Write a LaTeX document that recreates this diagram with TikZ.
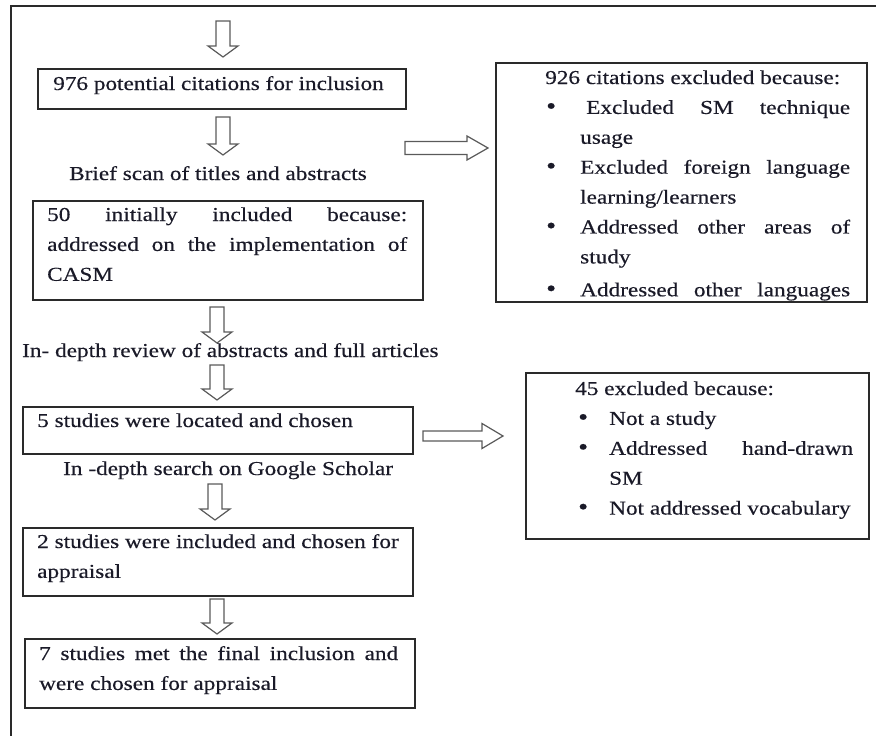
\documentclass[tikz,border=0pt]{standalone}
\usepackage{fontspec}
\setmainfont{Liberation Serif}[FakeStretch=1.18,FakeBold=0.4]

\definecolor{ink}{HTML}{1A1A28}
\definecolor{boxline}{HTML}{2A2A2A}
\definecolor{arrowline}{HTML}{5A5A5A}

% hollow block arrow pointing down: centre x, top y, tip y
\newcommand\downblock[3]{%
  \draw[blockarrow] (#1-7,#2) -- (#1+7,#2) -- (#1+7,#3-11) -- (#1+15,#3-11)
    -- (#1,#3) -- (#1-15,#3-11) -- (#1-7,#3-11) -- cycle;}
% hollow block arrow pointing right: start x, tip x, centre y, shaft half, head half
\newcommand\rightblock[5]{%
  \draw[blockarrow] (#1,#3-#4) -- (#2-21,#3-#4) -- (#2-21,#3-#5) -- (#2,#3)
    -- (#2-21,#3+#5) -- (#2-21,#3+#4) -- (#1,#3+#4) -- cycle;}
% bullet cells for the two exclusion lists
\newcommand\bulA{\makebox[35pt][l]{\hspace{1pt}{\fontsize{24}{24}\selectfont\textbullet}}}
\newcommand\bulB{\makebox[34pt][l]{\hspace{3pt}{\fontsize{24}{24}\selectfont\textbullet}}}

\begin{document}
\begin{tikzpicture}[x=1pt,y=-1pt,
  box/.style={draw=boxline,line width=1.6pt,inner sep=0pt,anchor=north west},
  txt/.style={inner sep=0pt,anchor=base west,text=ink,
              font=\fontsize{19.7}{29.9}\selectfont},
  blockarrow/.style={draw=arrowline,line width=1.2pt,fill=white,line join=miter},
  frame/.style={draw=boxline,line width=1.5pt}]
\useasboundingbox (0,0) rectangle (876,736);

% outer frame (top and left sides)
\coordinate (frameTR) at (876,6);
\coordinate (frameTL) at (11,6);
\coordinate (frameBL) at (11,736);
\draw[frame] (frameTR) -- (frameTL) -- (frameBL);

% main column boxes
\node[box,minimum width=368pt,minimum height=40pt] (b976) at (37,68) {};
\node[box,minimum width=390pt,minimum height=99pt] (b50) at (32,200) {};
\node[box,minimum width=390pt,minimum height=47pt] (b5) at (22,406) {};
\node[box,minimum width=390pt,minimum height=68pt] (b2) at (22,527) {};
\node[box,minimum width=390pt,minimum height=69pt] (b7) at (24,638) {};

% exclusion boxes
\node[box,minimum width=371pt,minimum height=239pt] (ex926) at (495,62) {};
\node[box,minimum width=343pt,minimum height=166pt] (ex45) at (525,372) {};

% texts of the main column
\node[txt] (t976) at (53,90) {976 potential citations for inclusion};
\node[txt] (scan) at (69,180) {Brief scan of titles and abstracts};
\node[txt] (t50) at (47,221) {\parbox[t]{360pt}{%
  \makebox[360pt][s]{50 initially included because:}\\
  \makebox[360pt][s]{addressed on the implementation of}\\
  CASM}};
\node[txt] (review) at (22,357) {In- depth review of abstracts and full articles};
\node[txt] (t5) at (37,427) {5 studies were located and chosen};
\node[txt] (search) at (63,475) {In -depth search on Google Scholar};
\node[txt] (t2) at (37,548) {\parbox[t]{370pt}{%
  2 studies were included and chosen for\\
  appraisal}};
\node[txt] (t7) at (39,660) {\parbox[t]{359pt}{%
  \makebox[359pt][s]{7 studies met the final inclusion and}\\
  were chosen for appraisal}};

% first exclusion list, cut off by its frame
\begin{scope}
  \clip (495,62) rectangle (866,301);
  \node[txt] (t926) at (545,84) {\parbox[t]{310pt}{%
    926 citations excluded because:\\
    \bulA\hspace*{6pt}\makebox[264pt][s]{Excluded SM technique}\\
    \hspace*{35pt}usage\\
    \bulA\makebox[270pt][s]{Excluded foreign language}\\
    \hspace*{35pt}learning/learners\\
    \bulA\makebox[270pt][s]{Addressed other areas of}\\
    \hspace*{35pt}study\\[3pt]
    \bulA\makebox[270pt][s]{Addressed other languages}}};
\end{scope}

% second exclusion list
\node[txt] (t45) at (575,395) {\parbox[t]{290pt}{%
  45 excluded because:\\
  \bulB Not a study\\
  \bulB\makebox[244pt][s]{Addressed hand-drawn}\\
  \hspace*{34pt}SM\\
  \bulB Not addressed vocabulary}};

% downward block arrows
\downblock{223}{21}{57}
\downblock{223}{117}{155}
\downblock{217}{307}{343}
\downblock{217}{365}{400}
\downblock{215}{484}{520}
\downblock{217}{599}{634}

% block arrows towards the exclusion boxes
\rightblock{405}{488}{148}{6.5}{12}
\rightblock{423}{503}{436}{5}{12.5}
\end{tikzpicture}
\end{document}
